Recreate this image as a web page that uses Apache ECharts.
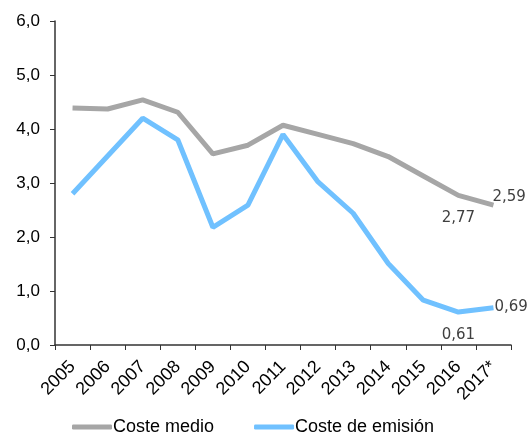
<!DOCTYPE html>
<html>
<head>
<meta charset="utf-8">
<script src="https://cdn.jsdelivr.net/npm/echarts@6/dist/echarts.min.js"></script>
<style>
html, body { margin: 0; padding: 0; background: #fff; }
#chart { width: 532px; height: 435px; }
</style>
</head>
<body>
<div id="chart"></div>
<script>
var years = ['2005', '2006', '2007', '2008', '2009', '2010', '2011', '2012', '2013', '2014', '2015', '2016', '2017*'];
var costeMedio = [4.39, 4.37, 4.54, 4.31, 3.54, 3.70, 4.07, 3.90, 3.73, 3.49, 3.13, 2.77, 2.59];
var costeEmision = [2.80, 3.50, 4.20, 3.80, 2.18, 2.59, 3.90, 3.02, 2.44, 1.51, 0.83, 0.61, 0.69];

function fmt(v) {
	return v.toFixed(2).replace('.', ',');
}

// etiquetas solo en los dos últimos puntos
function withLabels(arr, posLast, posPrev) {
	return arr.map(function (v, i) {
		if (i == arr.length - 2) {
			return { value: v, label: posPrev };
		}
		if (i == arr.length - 1) {
			return { value: v, label: posLast };
		}
		return v;
	});
}

var labelBase = {
	show: false,
	color: '#404040',
	fontFamily: 'DejaVu Sans',
	fontSize: 15,
	formatter: function (p) { return fmt(p.value); }
};

var chart = echarts.init(document.getElementById('chart'));
var option = {
	animation: false,
	grid: { left: 55, right: 21, top: 21, bottom: 90 },
	legend: {
		top: 413,
		left: 67,
		itemGap: 40,
		itemWidth: 40,
		itemHeight: 5,
		icon: 'roundRect',
		textStyle: { fontFamily: 'Liberation Sans', fontSize: 18, color: '#000', padding: [0, 0, 0, -4] },
		data: ['Coste medio', 'Coste de emisión']
	},
	xAxis: {
		type: 'category',
		data: years,
		boundaryGap: true,
		axisLine: { lineStyle: { color: '#333', width: 1.5 } },
		axisTick: { show: true, length: 5, lineStyle: { color: '#333' } },
		axisLabel: {
			rotate: 45,
			interval: 0,
			margin: 19,
			fontFamily: 'Liberation Sans',
			fontSize: 18,
			color: '#000'
		}
	},
	yAxis: {
		type: 'value',
		min: 0,
		max: 6,
		interval: 1,
		splitLine: { show: false },
		axisLine: { show: true, lineStyle: { color: '#333', width: 1.5 } },
		axisTick: { show: true, length: 5, lineStyle: { color: '#333' } },
		axisLabel: {
			margin: 15,
			fontFamily: 'Liberation Sans',
			fontSize: 17,
			color: '#000',
			formatter: function (v) { return v.toFixed(1).replace('.', ','); }
		}
	},
	series: [
		{
			name: 'Coste medio',
			type: 'line',
			symbol: 'circle',
			symbolSize: 0.1,
			showSymbol: true,
			showAllSymbol: true,
			color: '#a6a6a6',
			lineStyle: { width: 5, color: '#a6a6a6' },
			label: labelBase,
			data: withLabels(costeMedio,
				{ show: true, position: 'right', distance: 0, offset: [-1, -8] },
				{ show: true, position: 'bottom', distance: 15 })
		},
		{
			name: 'Coste de emisión',
			type: 'line',
			symbol: 'circle',
			symbolSize: 0.1,
			showSymbol: true,
			showAllSymbol: true,
			color: '#70c1ff',
			lineStyle: { width: 5, color: '#70c1ff' },
			label: labelBase,
			data: withLabels(costeEmision,
				{ show: true, position: 'right', distance: 1, offset: [0, -1] },
				{ show: true, position: 'bottom', distance: 15 })
		}
	]
};
chart.setOption(option);
</script>
</body>
</html>
